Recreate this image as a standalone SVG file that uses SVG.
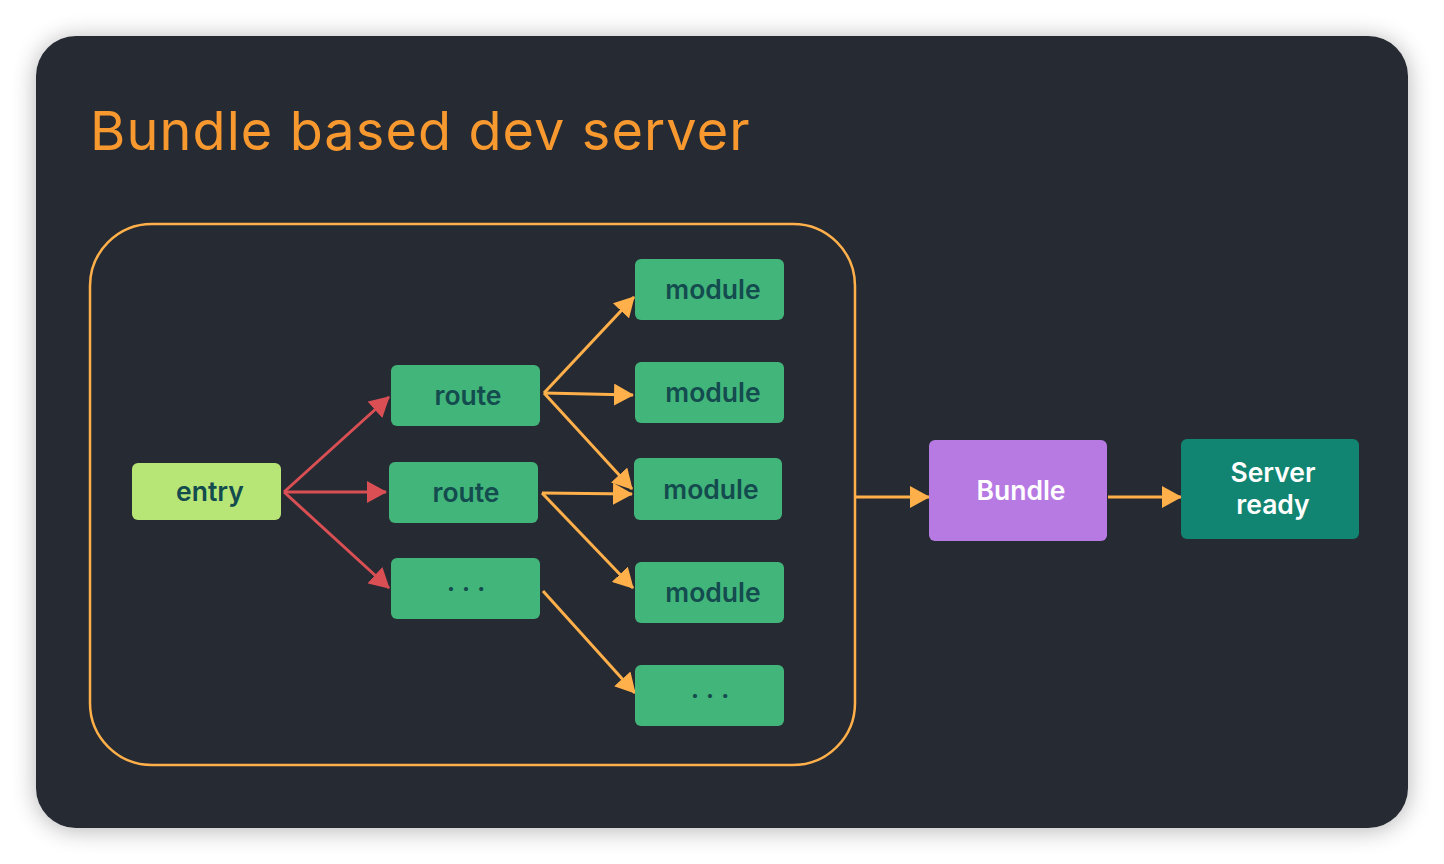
<svg xmlns="http://www.w3.org/2000/svg" width="1444" height="864" viewBox="0 0 1444 864">
<defs>
<filter id="sh" x="-10%" y="-10%" width="120%" height="120%">
<feGaussianBlur in="SourceAlpha" stdDeviation="12"/>
<feOffset dy="2"/>
<feComponentTransfer><feFuncA type="linear" slope="0.3"/></feComponentTransfer>
<feMerge><feMergeNode/><feMergeNode in="SourceGraphic"/></feMerge>
</filter>
<marker id="ar" viewBox="0 0 20 22" refX="19" refY="11" markerWidth="20" markerHeight="22" markerUnits="userSpaceOnUse" orient="auto"><path d="M0,0 L20,11 L0,22 Z" fill="#D94F54"/></marker>
<marker id="ao" viewBox="0 0 20 22" refX="19" refY="11" markerWidth="20" markerHeight="22" markerUnits="userSpaceOnUse" orient="auto"><path d="M0,0 L20,11 L0,22 Z" fill="#FFB04A"/></marker>
<style>
.n{fill:#42B67A;}
.t{font-family:Inter,"Liberation Sans",sans-serif;font-size:26.5px;font-weight:600;fill:#134B4E;text-anchor:middle;}
.w{font-family:Inter,"Liberation Sans",sans-serif;font-size:26.5px;font-weight:600;fill:#FFFFFF;text-anchor:middle;}
.r{stroke:#D94F54;stroke-width:3;fill:none;marker-end:url(#ar);}
.o{stroke:#FFB04A;stroke-width:3;fill:none;marker-end:url(#ao);}
</style>
</defs>
<rect width="1444" height="864" fill="#FFFFFF"/>
<rect x="36" y="36" width="1372" height="792" rx="40" fill="#252932" filter="url(#sh)"/>
<text x="90" y="150" font-family="Inter,'Liberation Sans',sans-serif" font-size="54" letter-spacing="1.1" fill="#F7992F">Bundle based dev server</text>
<rect id="container" x="90" y="224" width="765" height="541" rx="62" fill="none" stroke="#FFB04A" stroke-width="2.5"/>
<g id="connectors">
<line class="r" x1="284" y1="492" x2="389" y2="397"/>
<line class="r" x1="284" y1="492" x2="386" y2="492"/>
<line class="r" x1="284" y1="492" x2="389" y2="588"/>
<line class="o" x1="544" y1="393" x2="634" y2="297"/>
<line class="o" x1="544" y1="393" x2="633" y2="395"/>
<line class="o" x1="544" y1="393" x2="632" y2="489"/>
<line class="o" x1="542" y1="493" x2="632" y2="494"/>
<line class="o" x1="542" y1="493" x2="633" y2="588"/>
<line class="o" x1="543" y1="591" x2="635" y2="693"/>
<line class="o" x1="856" y1="497" x2="929" y2="497"/>
<line class="o" x1="1108" y1="497" x2="1181" y2="497"/>
</g>
<g id="entry"><rect x="132" y="463" width="149" height="57" rx="6" fill="#B7E576"/><text class="t" x="210" y="501">entry</text></g>
<g id="route1"><rect class="n" x="391" y="365" width="149" height="61" rx="6"/><text class="t" x="468" y="405">route</text></g>
<g id="route2"><rect class="n" x="389" y="462" width="149" height="61" rx="6"/><text class="t" x="466" y="502">route</text></g>
<g id="route3"><rect class="n" x="391" y="558" width="149" height="61" rx="6"/><text class="t" x="466" y="598">· · ·</text></g>
<g id="module1"><rect class="n" x="635" y="259" width="149" height="61" rx="6"/><text class="t" x="713" y="299">module</text></g>
<g id="module2"><rect class="n" x="635" y="362" width="149" height="61" rx="6"/><text class="t" x="713" y="402">module</text></g>
<g id="module3"><rect class="n" x="634" y="458" width="148" height="62" rx="6"/><text class="t" x="711" y="499">module</text></g>
<g id="module4"><rect class="n" x="635" y="562" width="149" height="61" rx="6"/><text class="t" x="713" y="602">module</text></g>
<g id="module5"><rect class="n" x="635" y="665" width="149" height="61" rx="6"/><text class="t" x="710" y="705">· · ·</text></g>
<g id="bundle"><rect x="929" y="440" width="178" height="101" rx="6" fill="#B77AE3"/><text class="w" x="1021" y="500">Bundle</text></g>
<g id="server"><rect x="1181" y="439" width="178" height="100" rx="6" fill="#128572"/><text class="w" x="1273" y="482">Server</text><text class="w" x="1273" y="514">ready</text></g>
</svg>
